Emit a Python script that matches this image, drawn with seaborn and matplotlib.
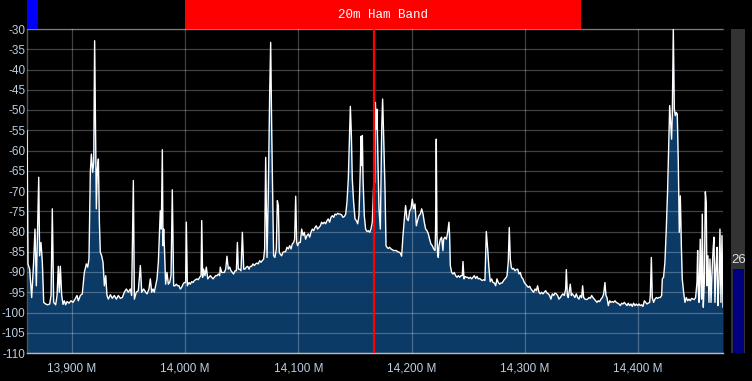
import numpy as np
import pandas as pd
import matplotlib
matplotlib.use("Agg")
import matplotlib.pyplot as plt
import seaborn as sns

# ---------------- data (kHz, dBm) ----------------
seg1_khz = [13860.3, 13861.1, 13862.6, 13864.4, 13866.1, 13867.3, 13868.5, 13870.6, 13871.4, 13872.6,
            13873.8, 13875.0, 13876.7, 13878.5, 13880.3, 13881.5, 13882.6, 13883.8, 13885.6, 13886.8,
            13887.9, 13888.8, 13889.7, 13890.9, 13892.1, 13893.2, 13894.4, 13895.6, 13897.4, 13899.1,
            13900.9, 13902.7, 13904.4, 13905.6, 13907.4, 13909.1, 13910.9, 13912.7, 13913.9, 13915.0,
            13916.2, 13917.1, 13918.3, 13919.2, 13920.0, 13920.9, 13921.5, 13922.4, 13923.3, 13924.2,
            13925.0, 13926.2, 13927.4, 13928.6, 13929.8, 13930.9, 13932.1, 13933.9, 13935.6, 13937.4,
            13939.2, 13940.9, 13942.7, 13944.5, 13946.2, 13948.0, 13949.8, 13951.5, 13952.7, 13954.2,
            13955.1, 13956.8, 13958.6, 13960.4, 13961.6, 13963.3, 13965.1]
seg1_db = [-55.1, -88.0, -89.3, -96.3, -87.6, -79.4, -93.4, -66.6, -86.0, -82.7,
           -87.6, -97.5, -97.9, -98.1, -97.9, -95.8, -74.4, -97.5, -98.1, -95.8,
           -88.6, -95.0, -88.6, -95.8, -98.0, -97.1, -98.1, -97.3, -97.7, -97.1,
           -97.5, -96.7, -95.8, -97.1, -95.8, -95.4, -90.1, -88.0, -88.8, -86.8,
           -65.4, -60.9, -65.4, -62.9, -32.9, -58.8, -74.4, -64.6, -62.1, -77.7,
           -85.1, -86.0, -87.6, -93.4, -90.9, -95.8, -96.7, -95.6, -96.5, -95.8,
           -96.7, -95.8, -96.5, -96.3, -95.0, -94.2, -95.0, -94.2, -95.8, -67.4,
           -96.7, -95.0, -94.6, -88.4, -95.0, -94.2, -95.0]

seg2_khz = [13966.3, 13968.0, 13969.2, 13970.4, 13971.6, 13972.7, 13973.9, 13975.1, 13976.3, 13977.4,
            13978.0, 13978.9, 13979.8, 13980.4, 13981.0, 13981.9, 13982.7, 13983.9, 13985.1, 13986.3,
            13987.5, 13988.6, 13989.8, 13991.0, 13992.2, 13993.3, 13994.5, 13995.7, 13996.9, 13998.1,
            13999.2, 14000.4, 14001.0, 14001.9, 14003.4, 14004.5, 14005.7, 14006.9, 14008.1, 14009.3,
            14010.4, 14011.6, 14012.8, 14014.0, 14014.6, 14015.4, 14016.3, 14017.5, 14018.7, 14019.9,
            14021.0, 14022.2, 14023.4, 14024.6, 14025.7, 14026.9, 14028.1, 14029.3, 14030.5, 14031.0,
            14032.2, 14033.4, 14034.6, 14035.8, 14036.9, 14038.1, 14039.3, 14040.5, 14041.6, 14042.8,
            14044.0, 14045.2, 14046.1, 14046.9, 14048.1, 14049.3, 14050.5, 14051.7, 14052.8, 14054.0,
            14055.2, 14056.4, 14057.5, 14058.7, 14059.9, 14061.1, 14062.3, 14063.4, 14064.6, 14065.8,
            14067.0, 14068.1, 14069.3, 14070.2, 14071.1, 14072.0]
seg2_db = [-95.4, -94.2, -91.7, -95.0, -94.2, -95.0, -93.4, -91.7, -87.6, -79.4,
           -74.9, -79.4, -59.8, -83.5, -79.4, -86.0, -93.0, -90.1, -93.0, -92.6,
           -90.9, -69.7, -93.4, -93.4, -93.0, -93.4, -93.4, -94.2, -93.8, -93.0,
           -92.6, -92.6, -77.7, -93.4, -92.6, -93.0, -92.4, -92.6, -92.1, -91.9,
           -91.7, -91.9, -91.3, -90.9, -77.3, -91.3, -89.3, -90.9, -88.8, -91.7,
           -91.3, -90.9, -91.3, -91.7, -91.3, -90.9, -90.9, -90.5, -90.9, -88.8,
           -90.1, -90.1, -90.1, -89.3, -86.1, -89.3, -88.8, -89.7, -90.1, -90.5,
           -89.7, -89.7, -82.7, -89.3, -89.3, -89.7, -80.2, -89.3, -89.3, -88.8,
           -88.6, -89.3, -88.6, -88.6, -88.0, -88.4, -88.0, -87.8, -88.0, -87.2,
           -87.6, -87.2, -86.8, -84.3, -61.7, -79.4]

seg3_khz = [14072.3, 14073.4, 14074.6, 14075.5, 14076.4, 14077.3, 14078.1, 14079.3, 14080.5, 14081.4,
            14082.3, 14083.1, 14084.0, 14085.2, 14086.4, 14087.6, 14088.7, 14089.9, 14091.1, 14092.3,
            14093.5, 14094.6, 14095.8, 14096.7, 14097.6, 14098.5, 14099.3, 14100.5, 14101.7, 14102.9,
            14104.1, 14105.2, 14106.4, 14107.6, 14108.8, 14110.0, 14111.1, 14112.3, 14113.5, 14114.7,
            14115.8, 14117.0, 14118.2, 14119.4, 14120.5, 14121.7, 14122.9, 14124.1, 14125.3, 14126.4,
            14127.6, 14128.8, 14130.0, 14131.2, 14132.3, 14133.5, 14134.7, 14135.9, 14137.0, 14138.2,
            14139.4, 14140.6, 14141.8, 14142.9, 14144.1, 14145.3, 14145.9, 14146.8, 14147.6, 14148.8,
            14150.0, 14151.2, 14152.4, 14153.5, 14154.7, 14155.3, 14155.9, 14156.5, 14157.1, 14158.2,
            14159.4, 14160.6, 14161.8, 14163.0, 14164.1, 14165.3, 14166.5, 14167.4, 14168.0, 14168.8,
            14169.4, 14170.3, 14171.2, 14172.4, 14173.6, 14174.4, 14175.3, 14176.5, 14177.4]
seg3_db = [-86.4, -71.2, -46.5, -33.3, -54.7, -71.2, -86.0, -86.4, -84.3, -72.4,
           -73.6, -85.1, -85.6, -86.0, -85.1, -85.0, -85.0, -83.9, -84.3, -83.5,
           -84.3, -83.1, -82.7, -81.9, -71.3, -82.7, -83.5, -82.7, -82.7, -79.4,
           -81.0, -80.2, -81.9, -81.0, -80.6, -81.4, -80.2, -79.4, -79.8, -79.0,
           -78.6, -79.4, -79.0, -78.6, -77.7, -78.1, -77.7, -78.1, -77.3, -76.9,
           -77.7, -76.5, -76.1, -76.5, -75.7, -75.9, -75.5, -75.7, -75.7, -75.9,
           -76.5, -76.3, -75.7, -72.8, -67.0, -54.7, -49.1, -56.3, -67.0, -72.8,
           -76.9, -77.3, -78.1, -76.1, -64.6, -56.5, -63.7, -56.3, -67.0, -76.1,
           -79.4, -80.0, -79.8, -80.2, -79.4, -77.7, -68.7, -67.9, -48.1, -54.7,
           -49.8, -62.9, -74.4, -79.4, -54.7, -47.3, -56.3, -69.5, -83.5]

seg4_khz = [14178.3, 14179.4, 14180.6, 14181.8, 14183.0, 14184.1, 14185.3, 14186.5, 14187.7, 14188.9,
            14190.0, 14191.2, 14192.4, 14193.6, 14194.7, 14195.9, 14197.1, 14198.3, 14199.5, 14200.6,
            14201.8, 14203.0, 14204.2, 14205.3, 14206.5, 14207.7, 14208.9, 14210.1, 14211.2, 14212.4,
            14213.6, 14214.8, 14215.9, 14217.1, 14218.3, 14219.5, 14220.7, 14221.2, 14221.8, 14222.4,
            14223.0, 14223.6, 14224.2, 14225.4, 14226.5, 14227.7, 14228.3, 14229.5, 14230.7, 14231.9,
            14233.0, 14233.6, 14234.2, 14235.4, 14236.6, 14237.7, 14238.9, 14240.1, 14241.3, 14242.4,
            14243.6, 14244.8, 14245.4, 14246.3, 14247.2, 14248.3, 14249.5, 14250.7, 14251.9, 14253.1,
            14254.2, 14255.4, 14256.6, 14257.8, 14258.9, 14260.1, 14261.3, 14262.5, 14263.7, 14264.8,
            14266.0, 14267.2, 14268.4, 14269.5, 14270.7, 14271.9, 14273.1, 14274.3, 14275.4, 14276.6,
            14277.8, 14279.0, 14280.1, 14281.3, 14282.5, 14283.7]
seg4_db = [-83.9, -84.2, -83.9, -84.3, -84.5, -84.7, -84.7, -84.7, -85.0, -85.1,
           -85.3, -86.1, -81.0, -76.9, -73.6, -76.9, -77.3, -74.9, -74.4, -72.0,
           -74.4, -73.2, -78.6, -77.3, -76.1, -75.7, -74.4, -75.7, -77.7, -79.4,
           -79.8, -80.6, -81.9, -83.1, -83.5, -84.3, -84.7, -79.4, -57.2, -81.0,
           -85.6, -86.4, -83.5, -81.9, -81.4, -84.7, -81.9, -81.4, -81.9, -80.2,
           -77.7, -81.0, -88.4, -90.1, -90.5, -90.1, -90.9, -91.3, -90.9, -91.3,
           -90.9, -90.9, -87.4, -91.7, -91.1, -91.3, -91.3, -91.6, -91.3, -91.7,
           -91.3, -90.9, -91.6, -91.1, -91.7, -91.6, -91.9, -92.1, -91.9, -92.1,
           -80.0, -84.3, -89.3, -92.4, -91.7, -92.6, -92.7, -93.4, -91.7, -92.6,
           -93.0, -92.7, -92.7, -92.1, -91.7, -91.3]

seg5_khz = [14284.3, 14285.4, 14286.3, 14287.2, 14288.1, 14289.0, 14290.1, 14291.3, 14292.5, 14293.7,
            14294.9, 14296.0, 14297.2, 14298.4, 14299.6, 14300.7, 14301.9, 14303.1, 14304.3, 14305.5,
            14306.6, 14307.8, 14309.0, 14310.2, 14311.3, 14312.5, 14313.7, 14314.9, 14316.1, 14317.2,
            14318.4, 14319.6, 14320.8, 14321.9, 14323.1, 14324.3, 14325.5, 14326.7, 14327.8, 14329.0,
            14330.2, 14331.4, 14332.5, 14333.7, 14334.9, 14336.1, 14336.7, 14337.6, 14338.4, 14339.6,
            14340.2, 14341.1, 14342.0, 14343.2, 14344.3, 14345.5, 14346.7, 14347.9, 14349.0, 14350.2,
            14351.1, 14352.0, 14353.2, 14354.3, 14355.5, 14356.7, 14357.9, 14359.1, 14360.2, 14361.4,
            14362.6, 14363.8, 14364.9, 14366.1, 14367.3, 14368.5, 14369.7, 14370.8, 14371.7, 14372.6,
            14373.8, 14375.0, 14376.1, 14377.3, 14378.5, 14379.7, 14380.8, 14382.0, 14383.2, 14384.4,
            14385.6, 14386.7, 14387.9, 14389.1]
seg5_db = [-90.9, -87.6, -79.0, -86.8, -88.8, -89.3, -89.1, -89.7, -89.4, -89.3,
           -90.5, -90.1, -91.3, -91.7, -92.6, -93.0, -93.4, -93.8, -93.5, -94.2,
           -94.6, -95.0, -94.2, -94.6, -93.4, -95.0, -95.4, -95.0, -95.4, -95.0,
           -94.6, -95.2, -95.4, -95.8, -96.7, -95.4, -95.8, -95.2, -95.4, -95.8,
           -96.7, -96.3, -95.8, -95.4, -95.8, -94.2, -89.4, -95.8, -96.3, -94.2,
           -93.0, -95.8, -95.4, -95.8, -96.3, -95.4, -96.3, -96.7, -95.8, -96.3,
           -93.4, -96.3, -96.7, -96.8, -96.7, -96.3, -96.5, -95.8, -96.3, -96.7,
           -97.1, -97.5, -97.1, -97.3, -96.7, -96.3, -95.4, -92.6, -95.8, -96.3,
           -98.3, -97.1, -97.5, -97.3, -97.5, -97.1, -97.5, -97.7, -97.9, -98.3,
           -97.7, -97.9, -97.5, -97.9]

seg6_khz = [14390.3, 14391.4, 14392.6, 14393.8, 14395.0, 14396.1, 14397.3, 14398.5, 14399.7, 14400.9,
            14402.0, 14403.2, 14404.4, 14405.6, 14406.7, 14407.9, 14409.1, 14410.3, 14410.9, 14411.8,
            14412.6, 14413.8, 14415.0, 14416.2, 14417.3, 14418.5, 14419.7, 14420.9, 14421.5, 14422.6,
            14423.8, 14425.0, 14426.2, 14427.1, 14428.0, 14428.8, 14429.7, 14430.3, 14431.2, 14432.1,
            14433.0, 14433.8, 14434.7, 14435.6, 14436.5, 14437.4, 14438.3, 14439.1, 14440.3, 14441.5,
            14442.7, 14443.9, 14445.0, 14446.2, 14447.4, 14448.6, 14449.7, 14450.9, 14452.1, 14452.7,
            14453.3, 14453.9, 14454.5, 14455.0, 14455.6, 14456.2, 14456.8, 14457.7, 14458.6, 14459.5,
            14460.3, 14460.9, 14461.8, 14462.7, 14463.6, 14464.5, 14465.3, 14466.2, 14467.1, 14468.0,
            14468.9, 14469.8, 14470.6, 14471.5, 14472.4, 14473.3, 14474.2, 14475.1]
seg6_db = [-98.3, -97.7, -98.3, -97.9, -98.5, -97.7, -98.3, -97.9, -98.3, -97.9,
           -98.3, -98.1, -98.5, -97.1, -97.5, -97.9, -97.7, -97.5, -95.8, -86.4,
           -96.3, -97.5, -96.7, -96.3, -96.5, -96.3, -96.3, -95.8, -91.7, -91.3,
           -87.6, -79.4, -69.5, -59.6, -48.9, -53.0, -57.2, -51.4, -30.0, -49.8,
           -51.4, -50.6, -51.0, -62.9, -80.2, -71.2, -83.5, -91.7, -95.0, -97.5,
           -96.3, -97.1, -96.7, -97.1, -96.5, -96.7, -96.8, -96.3, -92.6, -84.7,
           -94.2, -97.5, -89.3, -81.9, -92.6, -96.7, -75.7, -98.7, -92.6, -70.2,
           -72.8, -93.4, -86.0, -97.5, -86.8, -97.5, -90.9, -85.1, -81.4, -97.5,
           -88.8, -83.9, -98.3, -92.6, -79.4, -97.5, -81.0, -98.7]

y_ticks = [-30, -35, -40, -45, -50, -55, -60, -65, -70, -75, -80, -85, -90, -95, -100, -105, -110]
x_ticks = [13900, 14000, 14100, 14200, 14300, 14400]
x_tick_labels = ["13,900 M", "14,000 M", "14,100 M", "14,200 M", "14,300 M", "14,400 M"]

band_label = "20m Ham Band"
band_start = 14000
band_end = 14350
tuned_khz = 14167
meter_value = 26

# ---------------- build table ----------------
freq = np.concatenate([seg1_khz, seg2_khz, seg3_khz, seg4_khz, seg5_khz, seg6_khz])
level = np.concatenate([seg1_db, seg2_db, seg3_db, seg4_db, seg5_db, seg6_db])
df = pd.DataFrame({"freq": freq, "level": level})

# ---------------- styling ----------------
sns.set_style("dark")
plt.rcParams["font.family"] = ["Liberation Sans", "DejaVu Sans"]

W, H = 752, 381
fig = plt.figure(figsize=(W / 100, H / 100), dpi=100, facecolor="black")
ax = fig.add_axes([27 / W, 28 / H, 696 / W, 324 / H])
ax.set_facecolor("black")

x_min, x_max = 13860.25, 14475.1
y_min, y_max = -110, -30

fill_color = "#0c3a66"
ax.fill_between(df["freq"], df["level"], y_min, color=fill_color, linewidth=0, zorder=1)
sns.lineplot(data=df, x="freq", y="level", ax=ax, color="white", linewidth=1.0,
             sort=False, estimator=None, zorder=3)

ax.set_xlim(x_min, x_max)
ax.set_ylim(y_min, y_max)
ax.set_xticks(x_ticks)
ax.set_xticklabels(x_tick_labels)
ax.set_yticks(y_ticks)
ax.set_yticklabels([str(v) for v in y_ticks])
ax.set_xlabel("")
ax.set_ylabel("")

label_color = "#bccfe2"
ax.tick_params(axis="x", colors="#bbbbbb", labelcolor=label_color, labelsize=8.5,
               length=4, width=1, pad=3, direction="out")
ax.tick_params(axis="y", labelcolor=label_color, labelsize=8.5, length=0, pad=1)

ax.set_axisbelow(False)
ax.grid(True, color="white", alpha=0.26, linewidth=0.9, zorder=2)

ax.spines["right"].set_visible(False)
ax.spines["top"].set_color("#505050")
ax.spines["left"].set_color("#505050")
ax.spines["bottom"].set_color("#bbbbbb")
for s in ["top", "left", "bottom"]:
    ax.spines[s].set_visible(True)
    ax.spines[s].set_linewidth(1)

# tuned frequency marker
ax.axvline(tuned_khz, color="red", linewidth=1.6, zorder=5)

# ---------------- top band banner ----------------
top = fig.add_axes([27 / W, 352 / H, 696 / W, 29 / H])
top.set_xlim(x_min, x_max)
top.set_ylim(0, 1)
top.axis("off")
top.add_patch(plt.Rectangle((band_start, 0), band_end - band_start, 1, color="red", lw=0))
top.text((band_start + band_end) / 2, 0.5, band_label, color="white", ha="center", va="center",
         fontsize=9, family=["Liberation Mono", "DejaVu Sans Mono"])
top.add_patch(plt.Rectangle((x_min, 0), 9.6, 1, color="#0000ff", lw=0))

# ---------------- right meter ----------------
meter = fig.add_axes([731 / W, 28 / H, 14 / W, 324 / H])
meter.set_facecolor("#333333")
meter.set_xlim(0, 14)
meter.set_ylim(0, 100)
meter.bar([7.5], [meter_value], width=11, color="#000080", linewidth=0)
meter.text(7.5, meter_value + 0.8, str(meter_value), color="#e0e0e0", ha="center", va="bottom",
           fontsize=9.5)
meter.set_xticks([])
meter.set_yticks([])
for s in meter.spines.values():
    s.set_visible(False)

fig.savefig("out.png", dpi=100, facecolor="black")
